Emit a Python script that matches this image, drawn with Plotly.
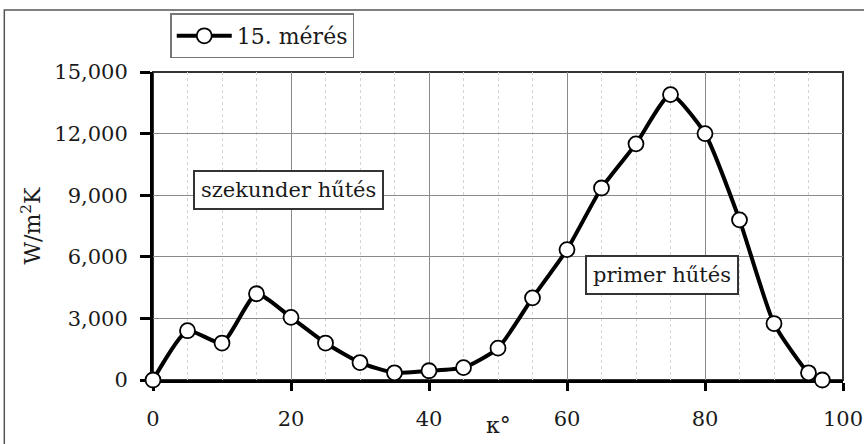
import plotly.graph_objects as go

# Data
kappa = [0, 5, 10, 15, 20, 25, 30, 35, 40, 45, 50, 55, 60, 65, 70, 75, 80, 85, 90, 95, 97]
alpha = [0, 2400, 1800, 4200, 3050, 1800, 850, 350, 450, 600, 1550, 4000, 6350, 9350,
         11500, 13900, 12000, 7800, 2750, 350, 0]
series_name = "15. mérés"
y_title = "W/m<sup>2</sup>K"
x_title = "κ°"
label_secondary = "szekunder hűtés"
label_primary = "primer hűtés"

FONT = "DejaVu Serif"

fig = go.Figure()
fig.add_trace(go.Scatter(
    x=kappa, y=alpha, name=series_name, mode="lines+markers",
    line=dict(color="black", width=4, shape="spline", smoothing=0.55),
    marker=dict(symbol="circle", size=15, color="white",
                line=dict(color="black", width=1.8)),
    cliponaxis=False,
))

fig.update_layout(
    width=864, height=444,
    margin=dict(l=153, r=21, t=72, b=64, autoexpand=False),
    paper_bgcolor="white", plot_bgcolor="white",
    font=dict(family=FONT, size=21, color="#1a1a1a"),
    showlegend=True,
    legend=dict(x=0.025, y=1.19, xanchor="left", yanchor="top",
                bordercolor="#777", borderwidth=1.5, bgcolor="white",
                font=dict(size=22), itemwidth=55, tracegroupgap=0),
    xaxis=dict(range=[0, 100], dtick=20, tick0=0, automargin=False,
               showgrid=True, gridcolor="#8a8a8a", gridwidth=1,
               minor=dict(dtick=5, showgrid=True, gridcolor="#d4d4d4",
                          griddash="dot", ticks=""),
               showline=True, linecolor="black", linewidth=3,
               ticks="outside", ticklen=8, tickwidth=3, tickcolor="black",
               ticklabelstandoff=10, zeroline=False, layer="below traces"),
    yaxis=dict(range=[0, 15000], dtick=3000, tick0=0, tickformat=",",
               automargin=False,
               showgrid=True, gridcolor="#8a8a8a", gridwidth=1,
               showline=True, linecolor="black", linewidth=3,
               ticks="outside", ticklen=10, tickwidth=3, tickcolor="black",
               ticklabelstandoff=8, zeroline=False, layer="below traces",
               title=dict(text=y_title, standoff=8, font=dict(size=22))),
)

# plot-area frame (top and right edges)
fig.add_shape(type="rect", xref="paper", yref="paper", x0=0, x1=1, y0=0, y1=1,
              line=dict(color="#333", width=2), layer="below")
# outer chart border
fig.add_shape(type="rect", xref="paper", yref="paper",
              x0=-0.2155, x1=1.2, y0=-0.5, y1=1.2013,
              line=dict(color="#555", width=1.5), layer="below")

fig.add_annotation(x=50, xref="x", y=-0.195, yref="paper", text=x_title,
                   showarrow=False, font=dict(size=22))
fig.add_annotation(x=19.6, y=9250, text=label_secondary, showarrow=False,
                   bgcolor="white", bordercolor="#333", borderwidth=2,
                   borderpad=6, font=dict(size=21))
fig.add_annotation(x=73.7, y=5100, text=label_primary, showarrow=False,
                   bgcolor="white", bordercolor="#333", borderwidth=2,
                   borderpad=6, font=dict(size=21))

fig.write_html("out.html")
